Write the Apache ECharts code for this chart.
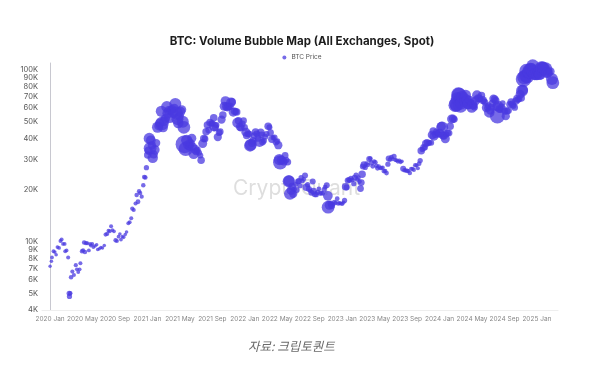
<!DOCTYPE html>
<html><head><meta charset="utf-8">
<script src="https://cdn.jsdelivr.net/npm/echarts@6/dist/echarts.min.js"></script>
<style>html,body{margin:0;padding:0;background:#fff}#c{width:604px;height:365px}</style>
</head><body><div id="c"></div>
<script>
const dates = [
'2020-01-01','2020-01-06','2020-01-08','2020-01-14','2020-01-19','2020-01-24','2020-01-29','2020-02-04','2020-02-09','2020-02-13','2020-02-18','2020-02-24','2020-02-26',
'2020-03-02','2020-03-08','2020-03-12','2020-03-13','2020-03-16','2020-03-19','2020-03-24','2020-03-30','2020-04-06','2020-04-10','2020-04-15','2020-04-20','2020-04-23','2020-04-29',
'2020-05-03','2020-05-07','2020-05-10','2020-05-14','2020-05-19','2020-05-25','2020-05-30','2020-06-02','2020-06-07','2020-06-11','2020-06-17','2020-06-23','2020-06-27',
'2020-07-03','2020-07-09','2020-07-15','2020-07-22','2020-07-27','2020-08-02','2020-08-07','2020-08-12','2020-08-17','2020-08-22','2020-08-28',
'2020-09-03','2020-09-08','2020-09-14','2020-09-19','2020-09-23','2020-09-28','2020-10-03','2020-10-09','2020-10-14','2020-10-21','2020-10-26',
'2020-11-01','2020-11-05','2020-11-10','2020-11-17','2020-11-21','2020-11-26','2020-11-30','2020-12-04','2020-12-10','2020-12-16','2020-12-20','2020-12-24','2020-12-28',
'2021-01-02','2021-01-05','2021-01-08','2021-01-11','2021-01-14','2021-01-18','2021-01-21','2021-01-25','2021-01-29','2021-02-03','2021-02-08','2021-02-12','2021-02-16','2021-02-21','2021-02-23','2021-02-27',
'2021-03-03','2021-03-08','2021-03-13','2021-03-16','2021-03-20','2021-03-24','2021-03-29','2021-04-02','2021-04-07','2021-04-10','2021-04-14','2021-04-18','2021-04-22','2021-04-25','2021-04-29',
'2021-05-03','2021-05-08','2021-05-12','2021-05-16','2021-05-19','2021-05-23','2021-05-27','2021-06-01','2021-06-06','2021-06-10','2021-06-15','2021-06-19','2021-06-22','2021-06-27',
'2021-07-01','2021-07-06','2021-07-12','2021-07-17','2021-07-20','2021-07-26','2021-07-30','2021-08-04','2021-08-08','2021-08-13','2021-08-18','2021-08-23','2021-08-28',
'2021-09-01','2021-09-06','2021-09-07','2021-09-12','2021-09-16','2021-09-21','2021-09-26','2021-09-30','2021-10-05','2021-10-10','2021-10-15','2021-10-20','2021-10-24','2021-10-28',
'2021-11-01','2021-11-06','2021-11-10','2021-11-14','2021-11-18','2021-11-23','2021-11-28','2021-12-01','2021-12-04','2021-12-08','2021-12-13','2021-12-17','2021-12-22','2021-12-27','2021-12-31',
'2022-01-05','2022-01-08','2022-01-13','2022-01-18','2022-01-21','2022-01-24','2022-01-28','2022-02-01','2022-02-05','2022-02-10','2022-02-14','2022-02-18','2022-02-24','2022-02-28',
'2022-03-03','2022-03-07','2022-03-12','2022-03-17','2022-03-22','2022-03-28','2022-04-02','2022-04-06','2022-04-11','2022-04-16','2022-04-21','2022-04-26',
'2022-05-01','2022-05-05','2022-05-09','2022-05-12','2022-05-16','2022-05-21','2022-05-26','2022-05-31','2022-06-05','2022-06-10','2022-06-13','2022-06-15','2022-06-18','2022-06-22','2022-06-26','2022-06-30',
'2022-07-04','2022-07-09','2022-07-13','2022-07-18','2022-07-22','2022-07-26','2022-07-30','2022-08-04','2022-08-09','2022-08-14','2022-08-19','2022-08-24','2022-08-29',
'2022-09-03','2022-09-07','2022-09-12','2022-09-15','2022-09-20','2022-09-25','2022-09-30','2022-10-05','2022-10-10','2022-10-15','2022-10-20','2022-10-25','2022-10-29',
'2022-11-04','2022-11-08','2022-11-09','2022-11-13','2022-11-18','2022-11-22','2022-11-27','2022-12-02','2022-12-07','2022-12-13','2022-12-17','2022-12-22','2022-12-27',
'2023-01-01','2023-01-06','2023-01-10','2023-01-14','2023-01-18','2023-01-22','2023-01-26','2023-01-30','2023-02-03','2023-02-08','2023-02-13','2023-02-16','2023-02-21','2023-02-25',
'2023-03-01','2023-03-05','2023-03-09','2023-03-12','2023-03-15','2023-03-18','2023-03-22','2023-03-27','2023-04-01','2023-04-06','2023-04-11','2023-04-15','2023-04-19','2023-04-24','2023-04-29',
'2023-05-04','2023-05-08','2023-05-12','2023-05-17','2023-05-22','2023-05-27','2023-06-01','2023-06-05','2023-06-10','2023-06-15','2023-06-20','2023-06-23','2023-06-28',
'2023-07-03','2023-07-08','2023-07-13','2023-07-18','2023-07-23','2023-07-28','2023-08-02','2023-08-07','2023-08-12','2023-08-17','2023-08-22','2023-08-27',
'2023-09-01','2023-09-06','2023-09-11','2023-09-16','2023-09-21','2023-09-26','2023-10-01','2023-10-06','2023-10-11','2023-10-16','2023-10-20','2023-10-24','2023-10-28',
'2023-11-02','2023-11-07','2023-11-10','2023-11-15','2023-11-20','2023-11-25','2023-11-30','2023-12-04','2023-12-08','2023-12-11','2023-12-16','2023-12-20','2023-12-24','2023-12-29',
'2024-01-03','2024-01-08','2024-01-11','2024-01-14','2024-01-18','2024-01-23','2024-01-27','2024-02-01','2024-02-06','2024-02-10','2024-02-15','2024-02-20','2024-02-25','2024-02-28',
'2024-03-02','2024-03-05','2024-03-08','2024-03-11','2024-03-14','2024-03-17','2024-03-19','2024-03-22','2024-03-26','2024-03-30','2024-04-03','2024-04-08','2024-04-12','2024-04-15','2024-04-18','2024-04-22','2024-04-26','2024-04-30',
'2024-05-03','2024-05-07','2024-05-11','2024-05-15','2024-05-20','2024-05-24','2024-05-28','2024-06-02','2024-06-06','2024-06-11','2024-06-15','2024-06-19','2024-06-24','2024-06-28',
'2024-07-02','2024-07-05','2024-07-09','2024-07-14','2024-07-17','2024-07-21','2024-07-26','2024-07-30','2024-08-02','2024-08-05','2024-08-08','2024-08-12','2024-08-16','2024-08-21','2024-08-25','2024-08-29',
'2024-09-03','2024-09-06','2024-09-11','2024-09-16','2024-09-20','2024-09-26','2024-09-30','2024-10-04','2024-10-09','2024-10-14','2024-10-18','2024-10-22','2024-10-27','2024-10-30',
'2024-11-03','2024-11-06','2024-11-09','2024-11-12','2024-11-15','2024-11-19','2024-11-22','2024-11-26','2024-11-29','2024-12-03','2024-12-05','2024-12-08','2024-12-11','2024-12-16','2024-12-19','2024-12-23','2024-12-27','2024-12-31',
'2025-01-04','2025-01-07','2025-01-10','2025-01-13','2025-01-17','2025-01-20','2025-01-24','2025-01-27','2025-01-31','2025-02-03','2025-02-07','2025-02-11','2025-02-15','2025-02-20','2025-02-25','2025-02-28'
];
const prices = [
7200,7700,8100,8800,8700,8400,9300,9200,10100,10300,9700,9700,8800,
8900,8100,5000,4800,5000,6200,6700,6400,7300,6900,6650,6900,7500,8800,
8900,9900,8700,9800,9800,8900,9700,9500,9700,9300,9450,9600,9000,
9100,9250,9200,9500,11000,11100,11600,11500,12300,11700,11500,
10200,10100,10700,11100,10300,10700,10600,11000,11400,12800,13000,
13700,15600,15300,16700,18700,17100,19700,19200,18300,21300,23800,23700,27000,
32000,34000,40000,35000,39000,36500,30800,32300,34300,37600,46500,47300,49200,57500,48900,46300,
50500,52300,61200,56000,58100,52800,58000,59000,56000,60000,63500,56200,51800,49100,54000,
57200,58800,50000,46400,37000,34700,39000,36600,35800,37300,40100,35800,32500,34600,
33500,34200,33000,31800,29800,37300,40000,39700,43800,47800,44700,49500,49000,
48800,52700,46900,46000,47800,40700,43200,43800,51500,54700,61600,66000,61300,60600,
61300,61500,64900,65500,56900,57500,57200,57000,49400,50600,46700,46200,48600,50700,46300,
43500,41600,42600,42300,36300,36700,37700,38700,41500,43600,42500,40000,38300,43200,
42000,38100,38800,40900,42400,47100,46400,43200,39500,40400,40500,38100,
38500,36500,30100,29000,29800,29400,29200,31800,29900,29100,22500,22600,19000,19900,21000,19000,
20200,21600,20000,22400,22600,21200,23600,22600,23100,24300,20800,21500,20300,
19800,19300,22400,19700,18900,18800,19400,20300,19100,19200,19100,20100,20800,
21300,18500,15900,16300,16700,16200,16500,17000,16800,17800,16700,16800,16700,
16600,16900,17400,20900,20700,22700,23000,22800,23400,22900,21800,23600,24400,23100,
23600,22400,20400,22100,24700,27400,28100,27100,28500,28000,30300,30500,28800,27500,29300,
29000,27700,26800,27400,26800,26900,27000,25800,25800,25100,28300,30500,30100,
31100,30300,31400,29900,29800,29300,29700,29100,29400,26600,26100,26000,
25900,25800,25100,26600,26600,26200,27900,27900,26800,28500,29700,33900,34500,
35400,35400,37300,37900,37500,37800,37700,41900,44200,41200,42000,43700,43000,42100,
42800,47000,46300,41700,41300,39800,42100,43100,43000,47100,51900,52200,51700,62500,
62000,63800,68200,72100,71400,68400,62000,63800,69900,69700,65900,71600,67100,63400,63800,66800,64000,60600,
62900,62300,60800,66200,71400,68500,68300,67700,71100,66800,66000,64900,60300,60300,
62100,56700,58000,60800,64100,68100,67900,66200,61400,54000,61700,59300,58900,61100,64200,59000,
57500,53900,57600,58200,63100,65200,63300,62100,60600,66000,68400,67400,67900,72300,
68800,75900,76700,88700,91000,92300,98900,91900,97400,95900,98800,101200,101100,106100,97500,94700,94300,93500,
98200,96900,94700,94500,104500,101700,104800,102100,102400,101400,96500,95800,97500,98300,88700,84400
];
const volumes = [
0.3,0.4,0.5,0.6,0.4,0.4,0.5,0.5,0.6,0.7,0.5,0.5,0.6,
0.5,0.7,1.5,1.5,1.0,1.0,0.8,0.7,0.8,0.6,0.6,0.6,0.7,1.0,
0.8,1.0,1.0,0.8,0.6,0.6,0.6,0.6,0.5,0.5,0.4,0.4,0.4,
0.3,0.3,0.3,0.4,0.8,0.8,0.6,0.6,0.7,0.5,0.5,
0.9,0.7,0.5,0.4,0.5,0.4,0.4,0.4,0.4,0.7,0.6,
0.7,0.9,0.8,0.8,1.0,1.2,1.0,0.9,0.8,1.0,1.2,1.0,1.5,
3.0,3.5,5.5,6.5,4.5,3.5,5.0,3.5,4.5,3.5,5.5,4.0,4.0,5.5,7.0,4.5,
4.5,4.0,5.5,5.0,4.0,5.0,4.0,4.0,4.5,4.0,6.0,6.5,6.0,5.0,4.0,
4.5,4.0,6.0,6.5,10.0,7.5,5.5,4.5,3.5,4.0,4.0,3.5,5.0,4.0,
3.0,2.5,2.0,2.0,3.0,4.0,3.0,2.5,3.0,3.0,2.5,3.0,2.0,
2.5,3.0,4.5,2.5,2.0,3.5,2.5,2.5,3.5,3.0,4.0,4.5,4.0,3.5,
3.0,3.0,4.5,3.0,4.0,3.0,2.5,3.0,5.0,3.0,3.5,3.0,2.5,2.5,2.5,
4.0,3.0,2.5,2.5,6.0,6.0,3.5,3.0,2.5,3.0,2.5,2.5,5.0,3.5,
2.5,2.5,2.0,2.0,2.0,3.0,2.0,2.5,3.0,1.5,2.0,2.5,
2.0,3.5,5.5,7.5,4.0,2.0,3.0,2.5,2.0,2.5,6.0,5.5,6.0,4.0,3.0,3.5,
1.5,1.5,2.0,2.0,2.0,1.5,1.5,1.2,1.2,2.0,3.0,1.5,2.0,
1.2,2.0,2.0,2.5,2.0,1.5,1.5,1.2,1.2,1.0,1.0,1.5,1.2,
2.0,4.5,6.5,4.0,2.0,2.5,1.2,1.2,1.0,1.2,1.0,0.8,0.8,
0.8,0.8,1.5,3.0,2.0,2.0,1.5,1.5,1.5,1.2,1.5,2.0,1.5,1.2,
1.2,1.2,2.5,2.5,3.0,2.0,2.5,1.5,1.2,1.0,2.0,1.2,1.5,1.2,1.0,
1.0,1.2,1.2,1.0,0.8,0.8,0.8,1.2,1.0,1.2,1.5,2.0,1.2,
1.2,0.8,1.5,0.8,0.8,0.8,0.8,0.8,0.6,2.0,1.0,0.8,
1.2,0.8,1.0,0.8,0.8,0.8,1.0,0.8,0.8,1.2,1.5,3.0,1.5,
2.5,2.0,3.0,2.5,2.0,1.5,2.0,4.0,3.0,4.0,2.5,2.5,2.0,2.0,
4.0,4.0,6.0,3.5,3.0,4.0,2.0,2.5,2.5,3.0,4.0,3.5,2.5,7.0,
6.0,8.0,7.0,7.5,8.0,6.0,7.5,6.0,6.0,4.0,5.0,5.0,5.0,5.0,5.5,4.0,3.0,5.0,
4.5,3.0,2.5,4.0,4.5,3.5,3.0,2.0,3.0,3.5,2.0,2.5,4.0,2.5,
2.5,5.0,3.5,2.5,3.0,3.5,3.0,3.0,4.0,8.0,5.0,3.0,2.5,2.5,2.0,2.5,
2.5,3.5,2.5,2.5,2.5,3.0,3.0,2.5,2.5,3.0,3.0,2.5,2.0,4.0,
3.0,6.0,5.0,8.5,7.5,6.5,7.5,7.0,6.0,6.0,8.0,6.5,6.5,6.5,7.0,6.0,5.5,5.0,
4.0,5.5,5.5,5.5,5.5,7.0,5.0,6.5,4.0,7.0,5.0,4.0,3.0,3.5,6.0,6.5
];
const xTickMonths = [0,4,8,12,16,20,24,28,32,36,40,44,48,52,56,60];
const monthNames = ['Jan','Feb','Mar','Apr','May','Jun','Jul','Aug','Sep','Oct','Nov','Dec'];
const yTicks = [4000,5000,6000,7000,8000,9000,10000,20000,30000,40000,50000,60000,70000,80000,90000,100000];

function monthIndex(s){
  const p = s.split('-').map(Number);
  const dim = new Date(p[0], p[1], 0).getDate();
  return (p[0]-2020)*12 + (p[1]-1) + (p[2]-1)/dim;
}
const data = dates.map((d,i)=>[monthIndex(d), prices[i], volumes[i]]);

const chart = echarts.init(document.getElementById('c'), null, {renderer:'canvas'});
chart.setOption({
  animation:false,
  backgroundColor:'#fff',
  title:{text:'BTC: Volume Bubble Map (All Exchanges, Spot)', left:'center', top:31,
    textStyle:{fontFamily:'Inter', fontSize:11.5, fontWeight:'bold', color:'#1c1c1c'}},
  legend:{top:49, left:'center', data:['BTC Price'], icon:'circle', itemWidth:4, itemHeight:4, itemGap:4,
    textStyle:{fontFamily:'Inter', fontSize:6.5, color:'#555'}},
  grid:{left:42, right:46, top:63, bottom:55},
  graphic:[
    {type:'text', left:233, top:178, z:0, style:{text:'CryptoQuant', fontFamily:'Inter', fontSize:21, fill:'#dedede'}},
    {type:'text', left:248, top:340, style:{text:'자료: 크립토퀀트', fontFamily:'Noto Sans CJK KR', fontSize:12.5, fontStyle:'italic', fill:'#6a6a6a'}}
  ],
  xAxis:{type:'value', min:-1, max:62.6,
    axisLine:{show:true, lineStyle:{color:'#eeeeee'}}, axisTick:{show:false}, splitLine:{show:false},
    axisLabel:{customValues:xTickMonths, margin:6, fontFamily:'Inter', fontSize:6.5, color:'#888',
      formatter:v=>(2020+Math.floor(v/12))+' '+monthNames[((v%12)+12)%12]}},
  yAxis:{type:'log', logBase:10, min:4000, max:110000,
    axisLine:{show:true, lineStyle:{color:'#c8c8d0'}}, axisTick:{show:false},
    splitLine:{show:false},
    axisLabel:{customValues:yTicks, margin:4, fontFamily:'Inter', fontSize:7.5, color:'#555',
      formatter:v=>(v/1000)+'K'}},
  series:[{name:'BTC Price', type:'scatter', data:data, z:3,
    symbolSize:v=>3+v[2]*1.5,
    itemStyle:{color:'#4a3ae0', opacity:0.75}}]
});
</script></body></html>
